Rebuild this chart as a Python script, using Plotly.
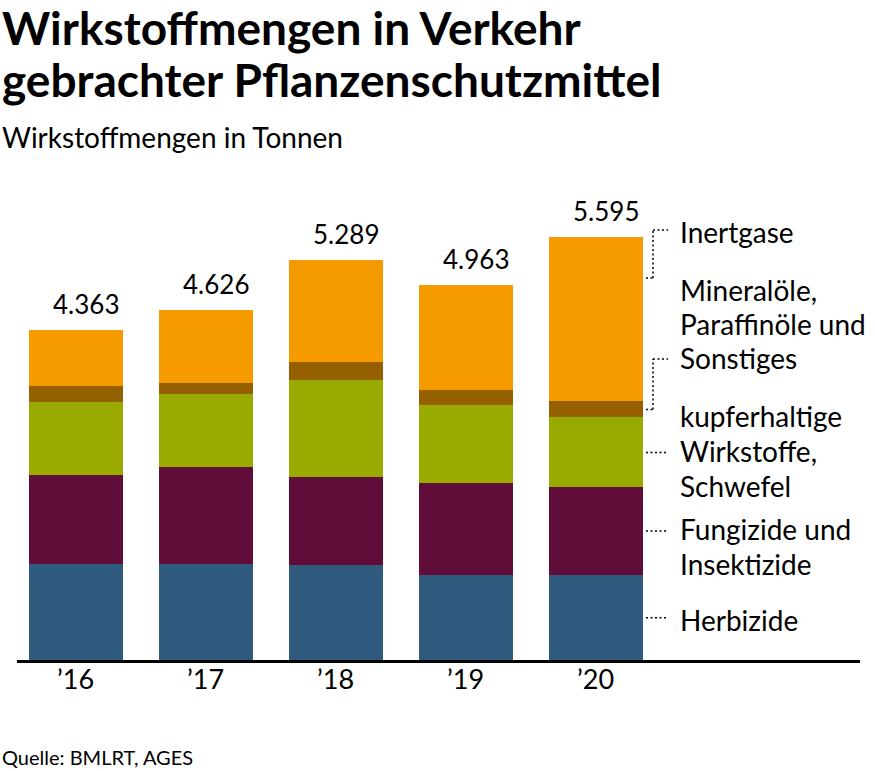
import plotly.graph_objects as go

years = ["’16", "’17", "’18", "’19", "’20"]
herbizide = [1273, 1282, 1264, 1141, 1141]
fungizide = [1183, 1273, 1161, 1204, 1148]
kupfer = [963, 968, 1285, 1034, 923]
mineraloele = [211, 140, 237, 189, 211]
inertgase = [733, 963, 1342, 1395, 2172]
totals = [4363, 4626, 5289, 4963, 5595]

series = [
    ("Herbizide", herbizide, "#2F5A7E"),
    ("Fungizide und Insektizide", fungizide, "#600D3A"),
    ("kupferhaltige Wirkstoffe, Schwefel", kupfer, "#99AA00"),
    ("Mineralöle, Paraffinöle und Sonstiges", mineraloele, "#946000"),
    ("Inertgase", inertgase, "#F59B00"),
]

W, H = 875, 771
ML, MR, MT, MB = 17, 15, 190, 110
PW = W - ML - MR
PH = H - MT - MB
STEP = 130.0
X0 = 75.5
XMIN = -(X0 - ML) / STEP
XMAX = XMIN + PW / STEP
TPP = 13.19  # tonnes per pixel
YMAX = PH * TPP
BW = 0.723
FONT = "Lato"

xs = list(range(len(years)))
fig = go.Figure()
for name, vals, col in series:
    fig.add_trace(go.Bar(x=xs, y=vals, name=name, width=BW,
                         marker=dict(color=col, line=dict(width=0)),
                         hoverinfo="y+name"))

annotations = []
for i, t in enumerate(totals):
    annotations.append(dict(x=i + BW / 2, y=t, xref="x", yref="y",
                            text=f"{t:,}".replace(",", "."), showarrow=False,
                            xanchor="right", yanchor="bottom", xshift=-2, yshift=8,
                            font=dict(family=FONT, size=26, color="#000")))


def py(p):
    return (H - MB - p) / PH


def text_left(txt, p, size):
    return dict(x=0, y=py(p), xref="paper", yref="paper", xshift=-(ML - 3) - 3,
                text=txt, showarrow=False, xanchor="left", yanchor="middle",
                font=dict(family=FONT, size=size, color="#000"))


annotations.append(text_left("<b>Wirkstoffmengen in Verkehr</b>", 27, 46))
annotations.append(text_left("<b>gebrachter Pflanzenschutzmittel</b>", 79, 46))
annotations.append(text_left("Wirkstoffmengen in Tonnen", 137, 28))
annotations.append(text_left("Quelle: BMLRT, AGES", 757, 20))

label_x = (678 - ML) / PW
legend_lines = [
    ("Inertgase", 232),
    ("Mineralöle,", 290), ("Paraffinöle und", 324), ("Sonstiges", 358),
    ("kupferhaltige", 416), ("Wirkstoffe,", 451), ("Schwefel", 486),
    ("Fungizide und", 529), ("Insektizide", 564),
    ("Herbizide", 620),
]
for txt, p in legend_lines:
    annotations.append(dict(x=label_x, y=py(p), xref="paper", yref="paper",
                            text=txt, showarrow=False, xanchor="left", yanchor="middle",
                            font=dict(family=FONT, size=28, color="#000")))


def dx(p):
    return XMIN + (p - ML) / STEP


def dy(p):
    return (H - MB - p) * TPP


shapes = []
dot = dict(color="#000", width=1.5, dash="2px,2.5px")
last = len(years) - 1
cum = [0]
for _, vals, _ in series:
    cum.append(cum[-1] + vals[last])
for k in range(3):
    ym = (cum[k] + cum[k + 1]) / 2
    shapes.append(dict(type="line", xref="x", yref="y", x0=dx(646), x1=dx(667),
                       y0=ym, y1=ym, line=dot))
for top_p, bot_y in [(230, dy(278)), (359, (cum[3] + cum[4]) / 2)]:
    shapes.append(dict(type="line", xref="x", yref="y", x0=dx(646), x1=dx(653),
                       y0=bot_y, y1=bot_y, line=dot))
    shapes.append(dict(type="line", xref="x", yref="y", x0=dx(653), x1=dx(653),
                       y0=bot_y, y1=dy(top_p), line=dot))
    shapes.append(dict(type="line", xref="x", yref="y", x0=dx(653), x1=dx(668),
                       y0=dy(top_p), y1=dy(top_p), line=dot))
shapes.append(dict(type="line", xref="paper", yref="paper", x0=0, x1=1,
                   y0=py(661.5), y1=py(661.5),
                   line=dict(color="#000", width=3), layer="above"))

fig.update_layout(
    width=W, height=H, barmode="stack", showlegend=False,
    margin=dict(l=ML, r=MR, t=MT, b=MB),
    paper_bgcolor="#fff", plot_bgcolor="#fff",
    xaxis=dict(range=[XMIN, XMAX], tickmode="array", tickvals=xs, ticktext=years,
               showgrid=False, zeroline=False, showline=False, ticks="",
               tickfont=dict(family=FONT, size=27, color="#000")),
    yaxis=dict(range=[0, YMAX], showgrid=False, zeroline=False, showline=False,
               showticklabels=False, ticks=""),
    annotations=annotations, shapes=shapes,
    font=dict(family=FONT),
)

fig.write_html("out.html", config={"displayModeBar": False},
               post_script="document.body.style.margin='0px';document.body.style.overflow='hidden';")
